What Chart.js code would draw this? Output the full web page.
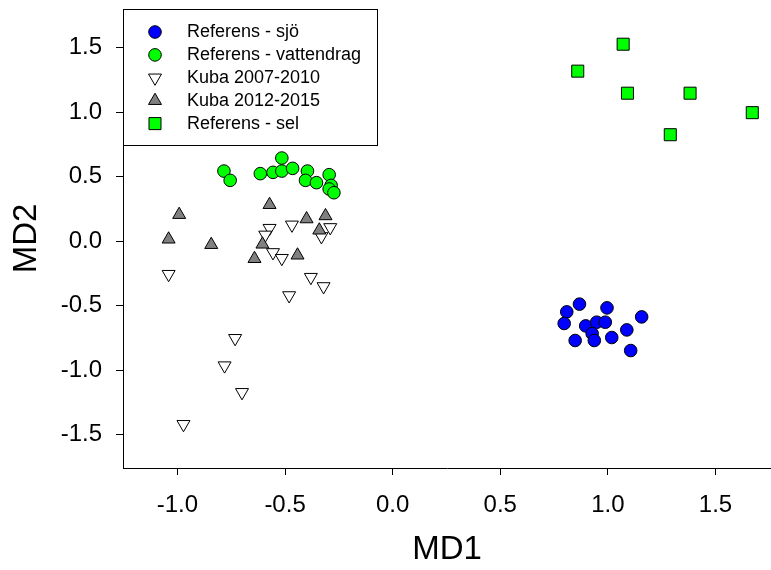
<!DOCTYPE html>
<html>
<head>
<meta charset="utf-8">
<script src="https://cdn.jsdelivr.net/npm/chart.js@4/dist/chart.umd.min.js"></script>
<style>
  html, body { margin: 0; padding: 0; background: #fff; }
</style>
</head>
<body>
<canvas id="myChart" width="771" height="570"></canvas>
<script>
// series labels
const seriesLabels = ['Referens - sjö', 'Referens - vattendrag', 'Kuba 2007-2010', 'Kuba 2012-2015', 'Referens - sel'];

// Referens - sjö
const sjoX = [0.868, 0.809, 0.797, 0.996, 1.157, 0.897, 0.948, 0.988, 0.927, 0.937, 0.848, 1.018, 1.088, 1.106];
const sjoY = [-0.489, -0.549, -0.639, -0.518, -0.588, -0.658, -0.629, -0.629, -0.717, -0.771, -0.771, -0.748, -0.689, -0.849];

// Referens - vattendrag
const vattX = [-0.784, -0.755, -0.615, -0.556, -0.515, -0.515, -0.465, -0.396, -0.405, -0.354, -0.295, -0.286, -0.295, -0.273];
const vattY = [0.543, 0.471, 0.523, 0.533, 0.644, 0.543, 0.564, 0.543, 0.471, 0.453, 0.515, 0.432, 0.404, 0.375];

// Kuba 2007-2010
const kuba07X = [-0.572, -0.592, -0.468, -0.290, -0.331, -0.556, -0.515, -1.041, -0.380, -0.321, -0.481, -0.732, -0.781, -0.700, -0.972];
const kuba07Y = [0.100, 0.048, 0.126, 0.106, 0.036, -0.088, -0.133, -0.257, -0.280, -0.352, -0.422, -0.754, -0.966, -1.173, -1.421];

// Kuba 2012-2015
const kuba12X = [-0.992, -1.041, -0.843, -0.572, -0.400, -0.312, -0.341, -0.605, -0.642, -0.442];
const kuba12Y = [0.205, 0.014, -0.028, 0.282, 0.171, 0.195, 0.084, -0.025, -0.137, -0.110];

// Referens - sel
const selX = [1.071, 0.860, 1.091, 1.382, 1.671, 1.290];
const selY = [1.527, 1.318, 1.147, 1.147, 0.996, 0.825];

// tick values
const xTicks = [-1.0, -0.5, 0.0, 0.5, 1.0, 1.5];
const yTicks = [-1.5, -1.0, -0.5, 0.0, 0.5, 1.0, 1.5];

const FONT = '"Liberation Sans", Arial, sans-serif';

function toPoints(xs, ys) {
  return xs.map((x, i) => ({ x: x, y: ys[i] }));
}

const legendBox = {
  id: 'legendBox',
  afterDraw(chart) {
    const ctx = chart.ctx;
    const x0 = Math.round(chart.chartArea.left), y0 = Math.round(chart.chartArea.top);
    ctx.save();
    ctx.fillStyle = '#fff';
    ctx.fillRect(x0, y0, 254, 136);
    ctx.strokeStyle = '#000';
    ctx.lineWidth = 1;
    ctx.strokeRect(x0 + 0.5, y0 + 0.5, 254, 136);
    ctx.font = '18px ' + FONT;
    ctx.textBaseline = 'middle';
    chart.data.datasets.forEach((ds, i) => {
      const y = y0 + 23 + i * 22.9;
      ctx.fillStyle = ds.backgroundColor;
      ctx.strokeStyle = ds.borderColor;
      ctx.lineWidth = 1;
      Chart.helpers.drawPoint(ctx, {
        pointStyle: ds.pointStyle,
        radius: ds.pointRadius,
        rotation: ds.rotation || 0,
        borderWidth: 1
      }, x0 + 32, y);
      ctx.fillStyle = '#000';
      ctx.fillText(ds.label, x0 + 64, y);
    });
    ctx.restore();
  }
};

const data = {
  datasets: [{
    label: seriesLabels[0],
    data: toPoints(sjoX, sjoY),
    pointStyle: 'circle',
    pointRadius: 6.3,
    backgroundColor: '#0000ff',
    borderColor: '#000',
    borderWidth: 1,
    order: 1
  }, {
    label: seriesLabels[1],
    data: toPoints(vattX, vattY),
    pointStyle: 'circle',
    pointRadius: 6.3,
    backgroundColor: '#00ff00',
    borderColor: '#000',
    borderWidth: 1,
    order: 1
  }, {
    label: seriesLabels[2],
    data: toPoints(kuba07X, kuba07Y),
    pointStyle: 'triangle',
    rotation: 180,
    pointRadius: 7.5,
    backgroundColor: '#ffffff',
    borderColor: '#000',
    borderWidth: 1,
    order: 2
  }, {
    label: seriesLabels[3],
    data: toPoints(kuba12X, kuba12Y),
    pointStyle: 'triangle',
    pointRadius: 7.5,
    backgroundColor: '#808080',
    borderColor: '#000',
    borderWidth: 1,
    order: 1
  }, {
    label: seriesLabels[4],
    data: toPoints(selX, selY),
    pointStyle: 'rect',
    pointRadius: 8.5,
    backgroundColor: '#00ff00',
    borderColor: '#000',
    borderWidth: 1,
    order: 1
  }]
};

const config = {
  type: 'scatter',
  data: data,
  options: {
    responsive: false,
    animation: false,
    events: [],
    layout: { autoPadding: false, padding: { top: 9, right: 0, left: 0, bottom: 0 } },
    plugins: {
      legend: { display: false },
      tooltip: { enabled: false }
    },
    scales: {
      x: {
        type: 'linear',
        min: -1.253,
        max: 1.758,
        afterFit: s => { s.height = 102; s.paddingLeft = 0; s.paddingRight = 0; },
        afterBuildTicks: s => { s.ticks = xTicks.map(v => ({ value: v })); },
        border: { display: true, color: '#000', width: 1 },
        grid: { drawOnChartArea: false, drawTicks: true, tickLength: 7, tickColor: '#000', color: '#000' },
        ticks: {
          color: '#000',
          font: { family: FONT, size: 24 },
          padding: 16,
          maxRotation: 0,
          callback: v => v.toFixed(1)
        },
        title: {
          display: true,
          text: 'MD1',
          color: '#000',
          font: { family: FONT, size: 33 },
          padding: { top: 0, bottom: 0 }
        }
      },
      y: {
        type: 'linear',
        min: -1.76,
        max: 1.80,
        afterFit: s => { s.width = 123; s.paddingTop = 0; s.paddingBottom = 0; },
        afterBuildTicks: s => { s.ticks = yTicks.map(v => ({ value: v })); },
        border: { display: true, color: '#000', width: 1 },
        grid: { drawOnChartArea: false, drawTicks: true, tickLength: 7, tickColor: '#000', color: '#000' },
        ticks: {
          color: '#000',
          font: { family: FONT, size: 24 },
          padding: 14,
          callback: v => v.toFixed(1)
        },
        title: {
          display: true,
          text: 'MD2',
          color: '#000',
          font: { family: FONT, size: 33 },
          padding: { top: 7, bottom: 0 }
        }
      }
    }
  },
  plugins: [legendBox]
};

const myChart = new Chart(document.getElementById('myChart'), config);
</script>
</body>
</html>
